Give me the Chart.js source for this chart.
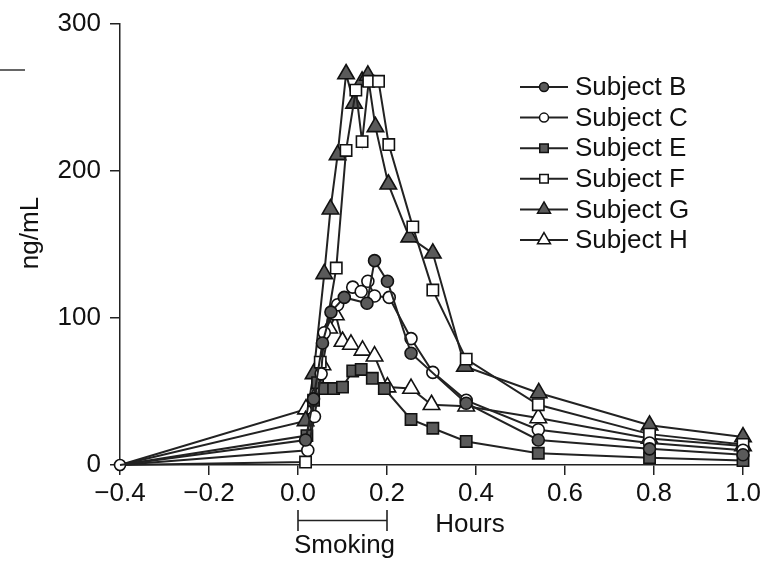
<!DOCTYPE html>
<html><head><meta charset="utf-8">
<script src="https://cdn.jsdelivr.net/npm/chart.js@4.4.0/dist/chart.umd.min.js"></script>
<style>html,body{margin:0;padding:0;background:#fff;}#wrap{width:762px;height:563px;}</style>
</head><body><div id="wrap"><canvas id="c" width="762" height="563"></canvas></div>
<script>
const FONT = '"Liberation Sans", Arial, Helvetica, sans-serif';

// ---- data (hours, ng/mL) ----
const seriesNames = ['Subject B','Subject C','Subject E','Subject F','Subject G','Subject H'];
const tB = [-0.4, 0.017, 0.035, 0.055, 0.074, 0.104, 0.155, 0.172, 0.201, 0.254, 0.378, 0.54, 0.79, 1.0];
const vB = [0, 17, 45, 83, 104, 114, 110, 139, 125, 76, 42, 17, 11, 7];
const tC = [-0.4, 0.022, 0.037, 0.052, 0.059, 0.089, 0.123, 0.142, 0.157, 0.172, 0.205, 0.254, 0.303, 0.378, 0.54, 0.79, 1.0];
const vC = [0, 10, 33, 62, 90, 109, 121, 118, 125, 115, 114, 86, 63, 44, 24, 15, 10];
const tE = [-0.4, 0.02, 0.035, 0.044, 0.06, 0.08, 0.1, 0.123, 0.142, 0.167, 0.194, 0.254, 0.303, 0.378, 0.54, 0.79, 1.0];
const vE = [0, 20, 44, 56, 52, 52, 53, 64, 65, 59, 52, 31, 25, 16, 8, 5, 3];
const tF = [-0.4, 0.017, 0.05, 0.086, 0.108, 0.130, 0.144, 0.159, 0.181, 0.204, 0.258, 0.303, 0.378, 0.54, 0.79, 1.0];
const vF = [0, 2, 70, 134, 214, 255, 220, 261, 261, 218, 162, 119, 72, 41, 21, 14];
const tG = [-0.4, 0.017, 0.035, 0.059, 0.073, 0.089, 0.108, 0.126, 0.144, 0.157, 0.174, 0.203, 0.25, 0.303, 0.375, 0.541, 0.79, 1.0];
const vG = [0, 30, 62, 130, 174, 211, 266, 246, 261, 265, 230, 191, 155, 144, 67, 49, 27, 19];
const tH = [-0.4, 0.018, 0.055, 0.07, 0.085, 0.1, 0.119, 0.145, 0.172, 0.201, 0.254, 0.3, 0.378, 0.54, 0.79, 1.0];
const vH = [0, 38, 68, 93, 102, 84, 82, 78, 74, 53, 52, 41, 40, 32, 18, 13];
const xTickValues = [-0.4, -0.2, 0.0, 0.2, 0.4, 0.6, 0.8, 1.0];
const xTickLabels = ['\u22120.4', '\u22120.2', '0.0', '0.2', '0.4', '0.6', '0.8', '1.0'];
const yTickValues = [0, 100, 200, 300];
const yTickLabels = ['0', '100', '200', '300'];
const smokingRange = [0.0, 0.2];

// ---- styles ----
const DARK = '#5a5a5a', LINE = '#222';
const styles = [
  {pointStyle:'circle',   radius:6,   fill:DARK,   legendR:4.5},
  {pointStyle:'circle',   radius:6,   fill:'#fff', legendR:4.5},
  {pointStyle:'rect',     radius:8,   fill:DARK,   legendR:6},
  {pointStyle:'rect',     radius:8,   fill:'#fff', legendR:6},
  {pointStyle:'triangle', radius:9.5, fill:DARK,   legendR:7.5},
  {pointStyle:'triangle', radius:9.5, fill:'#fff', legendR:7.5}
];
const times = [tB, tC, tE, tF, tG, tH];
const vals  = [vB, vC, vE, vF, vG, vH];

const datasets = seriesNames.map((n, i) => ({
  label: n,
  data: times[i].map((t, k) => ({x: t, y: vals[i][k]})),
  borderColor: LINE, borderWidth: 2, tension: 0, fill: false,
  pointStyle: styles[i].pointStyle,
  pointRadius: (c) => (c.dataIndex === 0 ? (i === 1 ? 5.5 : 0) : styles[i].radius),
  pointBackgroundColor: styles[i].fill, pointBorderColor: '#111', pointBorderWidth: 1.6,
  clip: false
}));

function marker(ctx, style, r, x, y, fill) {
  ctx.save();
  ctx.beginPath();
  if (style === 'circle') ctx.arc(x, y, r, 0, Math.PI * 2);
  else if (style === 'rect') { const s = r * Math.SQRT1_2; ctx.rect(x - s, y - s, 2 * s, 2 * s); }
  else { for (let k = 0; k < 3; k++) { const a = k * 2 * Math.PI / 3; const px = x + Math.sin(a) * r, py = y - Math.cos(a) * r; k ? ctx.lineTo(px, py) : ctx.moveTo(px, py); } ctx.closePath(); }
  ctx.fillStyle = fill; ctx.fill();
  ctx.lineWidth = 1.5; ctx.strokeStyle = '#111'; ctx.stroke();
  ctx.restore();
}

const extras = {
  id: 'extras',
  afterDraw(chart) {
    const ctx = chart.ctx, xs = chart.scales.x;
    ctx.save();
    // legend
    seriesNames.forEach((n, i) => {
      const y = 87 + i * 30.6;
      ctx.beginPath(); ctx.moveTo(520, y); ctx.lineTo(568, y);
      ctx.strokeStyle = LINE; ctx.lineWidth = 2; ctx.stroke();
      marker(ctx, styles[i].pointStyle, styles[i].legendR, 544, y, styles[i].fill);
      ctx.fillStyle = '#111'; ctx.font = '26px ' + FONT; ctx.textBaseline = 'middle'; ctx.textAlign = 'left';
      ctx.fillText(n, 575, y + 1);
    });
    // smoking bracket
    const a = xs.getPixelForValue(smokingRange[0]), b = xs.getPixelForValue(smokingRange[1]);
    ctx.strokeStyle = '#222'; ctx.lineWidth = 1.6;
    ctx.beginPath();
    ctx.moveTo(a, 510); ctx.lineTo(a, 531);
    ctx.moveTo(b, 510); ctx.lineTo(b, 531);
    ctx.moveTo(a, 520.5); ctx.lineTo(b, 520.5);
    ctx.stroke();
    ctx.fillStyle = '#111'; ctx.font = '26px ' + FONT; ctx.textAlign = 'center'; ctx.textBaseline = 'alphabetic';
    ctx.fillText('Smoking', (a + b) / 2 + 2, 553);
    ctx.fillText('Hours', 470, 532);
    // y title
    ctx.save(); ctx.translate(38, 233); ctx.rotate(-Math.PI / 2);
    ctx.textBaseline = 'alphabetic'; ctx.fillText('ng/mL', 0, 0); ctx.restore();
    // scan artifacts top-left
    ctx.strokeStyle = '#333'; ctx.lineWidth = 1.5;
    ctx.beginPath(); ctx.moveTo(0, 70); ctx.lineTo(25, 70); ctx.stroke();
    ctx.restore();
  }
};

new Chart(document.getElementById('c'), {
  type: 'line',
  data: {datasets},
  plugins: [extras],
  options: {
    responsive: false, animation: false, devicePixelRatio: 1,
    layout: {padding: {top: 24, right: 19, left: 0, bottom: 0}},
    plugins: {legend: {display: false}, tooltip: {enabled: false}},
    scales: {
      x: {
        type: 'linear', min: -0.4, max: 1.0,
        afterBuildTicks(s) { s.ticks = xTickValues.map(v => ({value: v})); },
        ticks: {callback: (v, i) => xTickLabels[i], font: {size: 26, family: FONT}, color: '#111', padding: 3, maxRotation: 0, autoSkip: false},
        grid: {drawOnChartArea: false, drawTicks: true, tickLength: 10, color: '#222', lineWidth: 1.5},
        border: {display: true, color: '#222', width: 1.5},
        afterFit(s) { s.height = 98; s.paddingLeft = 0; s.paddingRight = 0; }
      },
      y: {
        type: 'linear', min: 0, max: 300,
        afterBuildTicks(s) { s.ticks = yTickValues.map(v => ({value: v})); },
        ticks: {callback: (v, i) => yTickLabels[i], font: {size: 26, family: FONT}, color: '#111', padding: 9},
        grid: {drawOnChartArea: false, drawTicks: true, tickLength: 10, color: '#222', lineWidth: 1.5},
        border: {display: true, color: '#222', width: 1.5},
        afterFit(s) { s.width = 120; s.paddingTop = 0; s.paddingBottom = 0; }
      }
    }
  }
});
</script></body></html>
